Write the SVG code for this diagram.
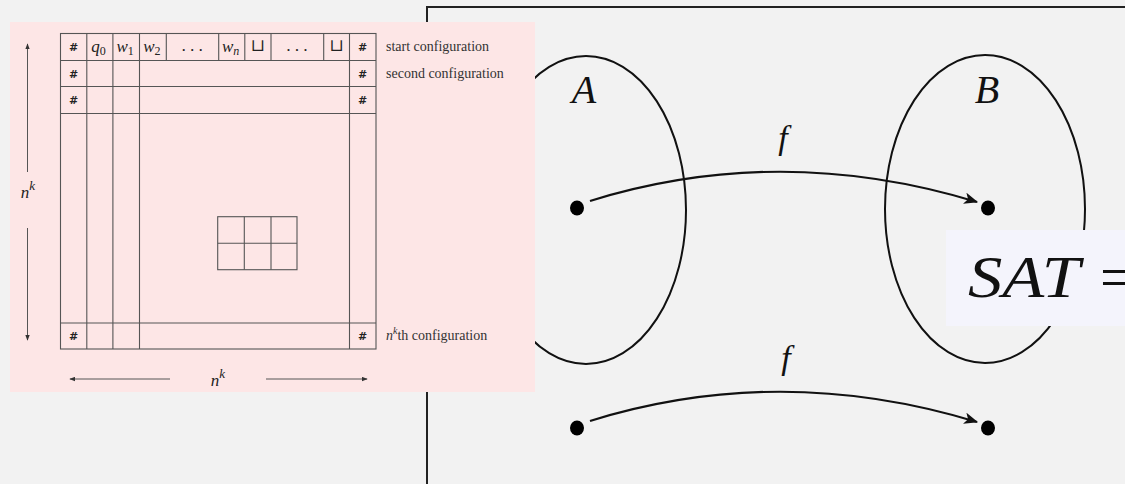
<svg xmlns="http://www.w3.org/2000/svg" width="1125" height="484" viewBox="0 0 1125 484">
<defs>
<style>
.g{stroke:#555;stroke-width:1.1;fill:none}
.h{font-family:"DejaVu Sans",sans-serif;font-weight:bold;font-size:11px;fill:#222;text-anchor:middle}
.m{font-family:"Liberation Serif","DejaVu Serif",serif;font-style:italic;font-size:17px;fill:#222;text-anchor:middle}
.t{font-family:"Liberation Serif","DejaVu Serif",serif;font-size:14px;fill:#333}
.ar{stroke:#555;stroke-width:1;fill:none}
.big{font-family:"Liberation Serif","DejaVu Serif",serif;font-style:italic;font-size:40px;fill:#111;text-anchor:middle}
.fn{font-family:"Liberation Serif","DejaVu Serif",serif;font-style:italic;font-size:34px;fill:#111;text-anchor:middle}
.sat{font-family:"Liberation Serif","DejaVu Serif",serif;font-size:60px;fill:#111}
.curve{stroke:#111;stroke-width:2.2;fill:none}
.ell{stroke:#111;stroke-width:2;fill:none}
</style>
<marker id="ah" viewBox="0 0 12 10" refX="11" refY="5" markerWidth="14" markerHeight="12" markerUnits="userSpaceOnUse" orient="auto">
<path d="M0,0 L12,5 L0,10 L3,5 z" fill="#111"/>
</marker>
<marker id="sa" viewBox="0 0 8 6" refX="7" refY="3" markerWidth="6" markerHeight="5" markerUnits="userSpaceOnUse" orient="auto">
<path d="M0,0 L8,3 L0,6 z" fill="#333"/>
</marker>
</defs>
<rect width="1125" height="484" fill="#f2f2f2"/>
<g id="frame">
<path d="M427,484 L427,7 L1125,7" stroke="#222" stroke-width="2" fill="none"/>
</g>
<g id="setA">
<ellipse class="ell" cx="586" cy="210" rx="100" ry="154"/>
<text class="big" x="584" y="103">A</text>
</g>
<g id="setB">
<ellipse class="ell" cx="985" cy="209" rx="100" ry="154"/>
<text class="big" x="987" y="103">B</text>
</g>
<g id="dots">
<ellipse cx="577" cy="208" rx="7" ry="7.5" fill="#000"/>
<ellipse cx="988" cy="208" rx="7" ry="7.5" fill="#000"/>
<ellipse cx="577" cy="428" rx="7" ry="7.5" fill="#000"/>
<ellipse cx="988" cy="428" rx="7" ry="7.5" fill="#000"/>
</g>
<g id="connectors">
<path class="curve" d="M590,201 Q780,142 977,202" marker-end="url(#ah)"/>
<text class="fn" x="783" y="149">f</text>
<path class="curve" d="M590,421 Q780,362 977,422" marker-end="url(#ah)"/>
<text class="fn" x="786" y="369">f</text>
</g>
<g id="sat">
<rect x="946" y="230" width="179" height="96" fill="#f4f4fc"/>
<text class="sat" x="968" y="297" font-style="italic" textLength="112" lengthAdjust="spacingAndGlyphs">SAT</text>
<text class="sat" x="1100" y="297">=</text>
</g>
<g id="tableau">
<rect x="10" y="22" width="525" height="370" fill="#fde6e6"/>
<rect class="g" x="60.5" y="33.5" width="315.5" height="315.5"/>
<path class="g" d="M60.5,60.5 H376 M60.5,86.5 H376 M60.5,113.5 H376 M60.5,323 H376"/>
<path class="g" d="M86.8,33.5 V349 M112.9,33.5 V349 M139.5,33.5 V349 M349.5,33.5 V349"/>
<path class="g" d="M166.3,33.5 V60.5 M218.7,33.5 V60.5 M244.8,33.5 V60.5 M271,33.5 V60.5 M323.7,33.5 V60.5"/>
<rect class="g" x="217.7" y="216.7" width="79.3" height="53"/>
<path class="g" d="M244.3,216.7 V269.7 M271,216.7 V269.7 M217.7,243.3 H297"/>
<text class="h" x="73.6" y="51">#</text>
<text class="m" x="98.5" y="52">q<tspan font-size="12" font-style="normal" dy="3">0</tspan></text>
<text class="m" x="125.2" y="52">w<tspan font-size="12" font-style="normal" dy="3">1</tspan></text>
<text class="m" x="151.9" y="52">w<tspan font-size="12" font-style="normal" dy="3">2</tspan></text>
<text class="m" x="192.5" y="51" font-style="normal">. . .</text>
<text class="m" x="230.7" y="52">w<tspan font-size="12" dy="3">n</tspan></text>
<text class="m" x="257.9" y="51" font-size="11" font-style="normal">⊔</text>
<text class="m" x="297.3" y="51" font-style="normal">. . .</text>
<text class="m" x="336.6" y="51" font-size="11" font-style="normal">⊔</text>
<text class="h" x="362.7" y="51">#</text>
<text class="h" x="73.6" y="78">#</text>
<text class="h" x="362.7" y="78">#</text>
<text class="h" x="73.6" y="104">#</text>
<text class="h" x="362.7" y="104">#</text>
<text class="h" x="73.6" y="340">#</text>
<text class="h" x="362.7" y="340">#</text>
<text class="t" x="386" y="51">start configuration</text>
<text class="t" x="386" y="78">second configuration</text>
<text class="t" x="386" y="340"><tspan font-style="italic">n</tspan><tspan font-style="italic" font-size="10" dy="-6">k</tspan><tspan dy="6">th configuration</tspan></text>
<path class="ar" d="M27.5,172 V44" marker-end="url(#sa)"/>
<path class="ar" d="M27.5,228 V340" marker-end="url(#sa)"/>
<text class="m" x="28" y="198" font-size="20">n<tspan font-size="13" dy="-8">k</tspan></text>
<path class="ar" d="M170,379 H70" marker-end="url(#sa)"/>
<path class="ar" d="M266,379 H367" marker-end="url(#sa)"/>
<text class="m" x="218" y="386" font-size="20">n<tspan font-size="13" dy="-8">k</tspan></text>
</g>
</svg>
